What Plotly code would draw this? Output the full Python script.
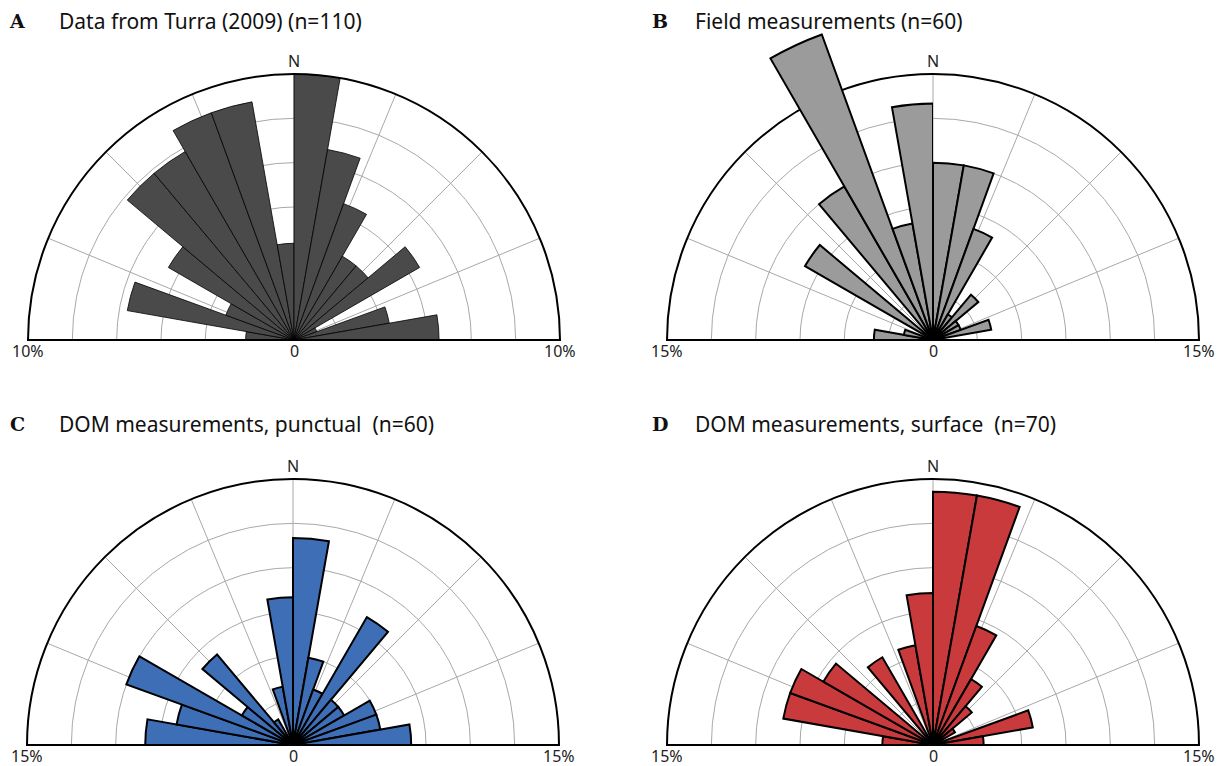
import plotly.graph_objects as go

# bin centres (bearing, degrees from N, west negative), 10-degree bins
bin_centers = [-85, -75, -65, -55, -45, -35, -25, -15, -5,
               5, 15, 25, 35, 45, 55, 65, 75, 85]

# counts per bin
counts_a = [2, 7, 3, 6, 9, 9, 10, 10, 4, 11, 8, 6, 4, 4, 6, 1, 4, 6]
counts_b = [2, 1, 0, 5, 0, 6, 11, 4, 8, 6, 6, 4, 1, 2, 1, 1, 2, 0]
counts_c = [5, 4, 6, 2, 4, 1, 0, 2, 5, 7, 3, 2, 5, 2, 2, 3, 3, 4]
counts_d = [2, 6, 6, 5, 0, 4, 0, 4, 6, 10, 10, 5, 3, 2, 1, 0, 4, 2]

n_a, n_b, n_c, n_d = 110, 60, 60, 70
rmax = [10, 15, 15, 15]

titles = ["Data from Turra (2009) (n=110)", "Field measurements (n=60)",
          "DOM measurements, punctual  (n=60)", "DOM measurements, surface  (n=70)"]
letters = ["A", "B", "C", "D"]
fills = ["#4a4a4a", "#9b9b9b", "#3e6fb6", "#c83a3b"]
edge_w = [0.8, 2, 2, 2]

panels = [(counts_a, n_a), (counts_b, n_b), (counts_c, n_c), (counts_d, n_d)]

W, H = 1221, 766
R = 266
centers = [(294, 340), (933, 340), (293, 745), (933, 745)]
title_pos = [(17, 57, 21), (660, 693, 21), (17, 57, 424), (660, 693, 424)]
OVER_MAX = 18.6  # radial range of the overlay used for bars beyond the outer ring

fig = go.Figure()
ang_ticks = [-90 + 22.5 * i for i in range(9)]
ang_text = ["N" if t == 0 else "" for t in ang_ticks]

annotations = []
for i, ((cnts, n), mx) in enumerate(zip(panels, rmax)):
    pname = "polar" if i == 0 else f"polar{i+1}"
    pct = [c / n * 100 for c in cnts]
    over = max(pct) > mx
    if over:
        # bars to the west go on an overlay polar with a larger radial range
        base_theta = [t for t in bin_centers if t > 0]
        base_r = [p for t, p in zip(bin_centers, pct) if t > 0]
        ov_theta = [t for t in bin_centers if t < 0]
        ov_r = [p for t, p in zip(bin_centers, pct) if t < 0]
    else:
        base_theta, base_r = bin_centers, pct
    fig.add_trace(go.Barpolar(
        r=base_r, theta=base_theta, width=[10] * len(base_r),
        marker=dict(color=fills[i], line=dict(color="black", width=edge_w[i])),
        subplot=pname, showlegend=False, hoverinfo="skip"))
    cx, cy = centers[i]
    dom = dict(x=[(cx - R) / W, (cx + R) / W], y=[1 - cy / H, 1 - (cy - R) / H])
    step = mx / 6
    fig.update_layout(**{pname: dict(
        domain=dom, sector=[0, 180], bgcolor="white", hole=0,
        radialaxis=dict(range=[0, mx], tickvals=[step * k for k in range(1, 6)],
                        showticklabels=False, ticks="", showline=False,
                        gridcolor="#a8a8a8", gridwidth=1),
        angularaxis=dict(rotation=90, direction="clockwise",
                         tickmode="array", tickvals=ang_ticks, ticktext=ang_text,
                         ticks="", showline=True, linecolor="black", linewidth=2,
                         gridcolor="#a8a8a8", gridwidth=1,
                         tickfont=dict(family="Noto Sans", size=16, color="#222")),
    )})
    if over:
        oname = "polar5"
        R2 = R * OVER_MAX / mx
        fig.add_trace(go.Barpolar(
            r=ov_r, theta=ov_theta, width=[10] * len(ov_r),
            marker=dict(color=fills[i], line=dict(color="black", width=edge_w[i])),
            subplot=oname, showlegend=False, hoverinfo="skip"))
        fig.update_layout(**{oname: dict(
            domain=dict(x=[(cx - R2) / W, cx / W], y=[1 - cy / H, 1 - (cy - R2) / H]),
            sector=[90, 180], bgcolor="rgba(0,0,0,0)", hole=0,
            radialaxis=dict(range=[0, OVER_MAX], showgrid=False, showticklabels=False,
                            ticks="", showline=False),
            angularaxis=dict(rotation=90, direction="clockwise", showgrid=False,
                             showticklabels=False, ticks="", showline=False),
        )})
    lab = f"{mx}%"
    for x, t in [(cx - R, lab), (cx, "0"), (cx + R, lab)]:
        annotations.append(dict(x=x / W, y=1 - (cy + 11) / H, xref="paper", yref="paper",
                                text=t, showarrow=False, xanchor="center", yanchor="middle",
                                font=dict(family="Noto Sans", size=16, color="#222")))
    lx, tx, ty = title_pos[i]
    annotations.append(dict(x=lx / W, y=1 - ty / H, xref="paper", yref="paper",
                            text=f"<b>{letters[i]}</b>", showarrow=False,
                            xanchor="center", yanchor="middle",
                            font=dict(family="DejaVu Serif", size=19, color="#111")))
    annotations.append(dict(x=tx / W, y=1 - ty / H, xref="paper", yref="paper",
                            text=titles[i], showarrow=False,
                            xanchor="left", yanchor="middle",
                            font=dict(family="Noto Sans", size=21, color="#111")))

fig.update_layout(width=W, height=H, margin=dict(l=0, r=0, t=0, b=0),
                  paper_bgcolor="white", annotations=annotations)
fig.write_html("out.html", post_script="document.body.style.margin='0';",
               config={"displayModeBar": False})
